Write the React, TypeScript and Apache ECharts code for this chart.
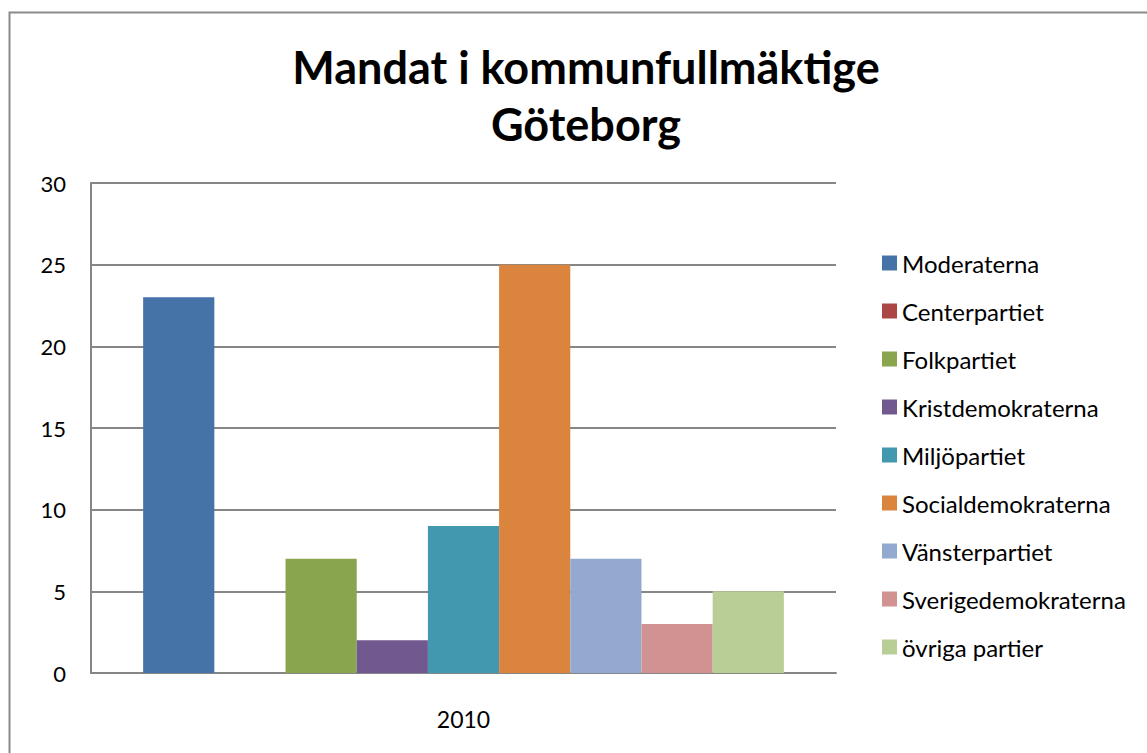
import React, { useEffect, useRef } from "react";
import * as echarts from "echarts";

const categories = ["2010"];
const parties = [
  "Moderaterna",
  "Centerpartiet",
  "Folkpartiet",
  "Kristdemokraterna",
  "Miljöpartiet",
  "Socialdemokraterna",
  "Vänsterpartiet",
  "Sverigedemokraterna",
  "övriga partier",
];
const seats = [23, 0, 7, 2, 9, 25, 7, 3, 5];
const colors = [
  "#4572A7",
  "#AA4643",
  "#89A54E",
  "#71588F",
  "#4198AF",
  "#DB843D",
  "#93A9CF",
  "#D19392",
  "#B9CD96",
];
const yTicks = { min: 0, max: 30, interval: 5 };

const FONT = "Lato, 'Open Sans', sans-serif";

export default function App() {
  const ref = useRef<HTMLDivElement>(null);
  useEffect(() => {
    if (!ref.current) return;
    const chart = echarts.init(ref.current, null, { renderer: "svg" });
    chart.setOption({
      animation: false,
      backgroundColor: "#ffffff",
      textStyle: { fontFamily: FONT },
      title: {
        text: "Mandat i kommunfullmäktige\nGöteborg",
        left: 581,
        top: 33,
        textAlign: "center",
        textStyle: {
          fontFamily: FONT,
          fontSize: 45,
          fontWeight: "bold",
          color: "#000000",
          lineHeight: 57,
        },
      },
      graphic: [
        {
          type: "rect",
          shape: { x: 9.5, y: 12.5, width: 1160, height: 770 },
          style: { fill: "none", stroke: "#8a8a8a", lineWidth: 2 },
          silent: true,
        },
      ],
      legend: {
        orient: "vertical",
        left: 877,
        top: 246,
        itemWidth: 15,
        itemHeight: 15,
        itemGap: 24,
        icon: "rect",
        data: parties,
        textStyle: {
          fontFamily: FONT,
          fontSize: 24,
          lineHeight: 24,
          color: "#000000",
        },
      },
      grid: { left: 91, right: 311, top: 183, bottom: 753 - 673 },
      xAxis: {
        type: "category",
        data: categories,
        axisLine: { show: true, lineStyle: { color: "#868686", width: 2 } },
        axisTick: { show: false },
        axisLabel: {
          fontFamily: FONT,
          fontSize: 23,
          color: "#000000",
          margin: 34,
        },
      },
      yAxis: {
        type: "value",
        min: yTicks.min,
        max: yTicks.max,
        interval: yTicks.interval,
        axisLine: { show: true, lineStyle: { color: "#868686", width: 2 } },
        axisTick: { show: false },
        splitLine: { show: true, lineStyle: { color: "#868686", width: 2 } },
        axisLabel: {
          fontFamily: FONT,
          fontSize: 22,
          color: "#000000",
          margin: 25,
        },
      },
      series: parties.map((name, i) => ({
        type: "bar",
        name,
        data: [seats[i]],
        itemStyle: { color: colors[i] },
        barGap: "0%",
        barCategoryGap: "14%",
      })),
    });
    return () => chart.dispose();
  }, []);
  return (
    <div
      ref={ref}
      style={{ position: "fixed", left: 0, top: 0, width: 1147, height: 753 }}
    />
  );
}
